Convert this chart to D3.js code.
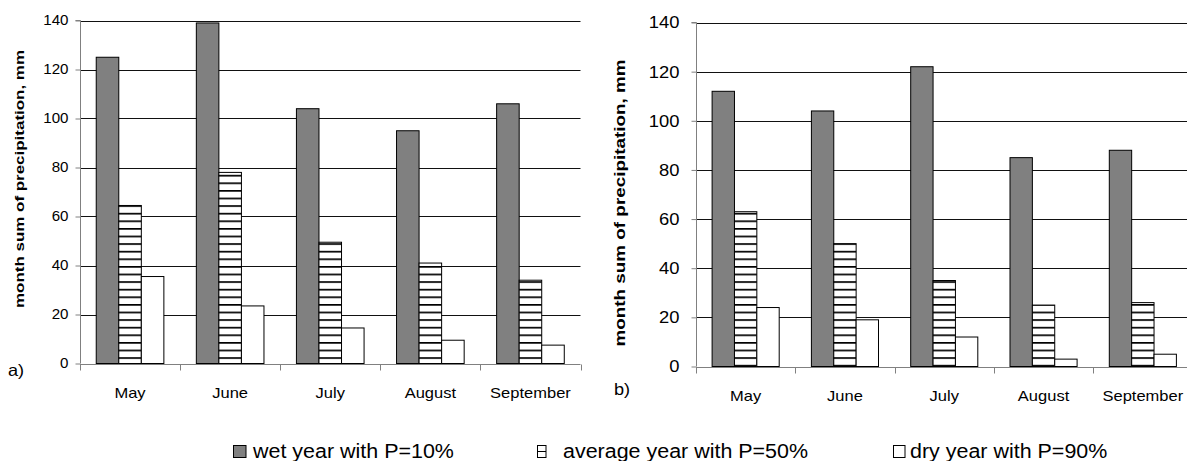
<!DOCTYPE html>
<html>
<head>
<meta charset="utf-8">
<script src="https://cdn.jsdelivr.net/npm/d3@7/dist/d3.min.js"></script>
<style>
  html, body { margin: 0; padding: 0; background: #fff; }
  svg { display: block; font-family: "Liberation Sans", Arial, sans-serif; }
</style>
</head>
<body>
<svg id="chart" width="1187" height="461"></svg>
<script>
// ---------- DATA ----------
const months = ["May", "June", "July", "August", "September"];
const seriesNames = ["wet year with P=10%", "average year with P=50%", "dry year with P=90%"];
const yTicks = [0, 20, 40, 60, 80, 100, 120, 140];
// panel a)
const wetA = [125, 139, 104, 95, 106];
const avgA = [64.5, 78, 49.5, 41, 34];
const dryA = [35.5, 23.5, 14.5, 9.5, 7.5];
// panel b)
const wetB = [112, 104, 122, 85, 88];
const avgB = [63, 50, 35, 25, 26];
const dryB = [24, 19, 12, 3, 5];
const yTitle = "month sum of precipitation, mm";

// ---------- SETUP ----------
const svg = d3.select("#chart");
svg.append("rect").attr("width", 1187).attr("height", 461).attr("fill", "#fff");

const defs = svg.append("defs");
const pat = defs.append("pattern").attr("id", "hstripe")
  .attr("patternUnits", "userSpaceOnUse").attr("width", 8).attr("height", 7.6);
pat.append("rect").attr("width", 8).attr("height", 7.6).attr("fill", "#fff");
pat.append("rect").attr("y", 0).attr("width", 8).attr("height", 1.7).attr("fill", "#000");

const fills = ["#808080", "url(#hstripe)", "#ffffff"];

function stretch(sel, f) {
  sel.each(function () {
    const L = this.getComputedTextLength();
    d3.select(this).attr("textLength", L * f).attr("lengthAdjust", "spacingAndGlyphs");
  });
}

function panel(opts) {
  const { x0, x1, y0, y1, wet, avg, dry, tickFont, tickGap, title, titleX, titleY, titleFont, titleLen, tag, tagX, tagY, tagFont } = opts;
  const g = svg.append("g");
  const x = d3.scaleBand().domain(months).range([x0, x1]).padding(0);
  const xs = d3.scaleBand().domain([0, 1, 2]).range([0, x.bandwidth()]).paddingInner(0).paddingOuter(0.72);
  const y = d3.scaleLinear().domain([0, 140]).range([y0, y1]);

  // gridlines
  g.append("g").selectAll("line").data(yTicks.filter(d => d > 0)).join("line")
    .attr("x1", x0).attr("x2", x1)
    .attr("y1", d => Math.round(y(d)) + 0.5).attr("y2", d => Math.round(y(d)) + 0.5)
    .attr("stroke", "#111").attr("stroke-width", 1);

  // bars
  const data = months.map((m, i) => ({ m, vals: [wet[i], avg[i], dry[i]] }));
  const grp = g.append("g").selectAll("g").data(data).join("g")
    .attr("transform", d => `translate(${x(d.m)},0)`);
  grp.selectAll("rect").data(d => d.vals.map((v, k) => ({ v, k }))).join("rect")
    .attr("x", d => xs(d.k))
    .attr("width", xs.bandwidth())
    .attr("y", d => y(d.v))
    .attr("height", d => y(0) - y(d.v))
    .attr("fill", d => fills[d.k])
    .attr("stroke", "#000").attr("stroke-width", 1);

  // y axis
  const yAxis = d3.axisLeft(y).tickValues(yTicks).tickSize(5).tickPadding(tickGap);
  const ya = g.append("g").attr("transform", `translate(${x0 + 0.5},0)`).call(yAxis);
  ya.select(".domain").attr("stroke", "#808080").attr("d", `M-5,${y(140)}H0V${y(0)}`);
  ya.selectAll(".tick line").attr("stroke", "#808080");
  ya.selectAll(".tick text").attr("font-size", tickFont).attr("fill", "#000")
    .attr("font-family", "Liberation Sans, Arial, sans-serif");
  stretch(ya.selectAll(".tick text"), 1.08);

  // x axis
  const xa = g.append("g").attr("transform", `translate(0,${Math.round(y0) + 0.5})`);
  xa.append("line").attr("x1", x0).attr("x2", x1).attr("stroke", "#808080");
  const bounds = months.map(m => x(m)).concat([x1]);
  xa.selectAll("line.tk").data(bounds).join("line").attr("class", "tk")
    .attr("x1", d => Math.round(d) + 0.5).attr("x2", d => Math.round(d) + 0.5)
    .attr("y1", 0).attr("y2", 6).attr("stroke", "#808080");
  const xl = xa.selectAll("text").data(months).join("text")
    .attr("x", d => x(d) + x.bandwidth() / 2).attr("y", 33)
    .attr("text-anchor", "middle").attr("font-size", 15).attr("fill", "#000")
    .text(d => d);
  stretch(xl, 1.1);

  // y title
  g.append("text")
    .attr("transform", `translate(${titleX},${titleY}) rotate(-90)`)
    .attr("text-anchor", "middle").attr("dominant-baseline", "central")
    .attr("font-weight", "bold").attr("font-size", titleFont).attr("fill", "#000")
    .attr("textLength", titleLen).attr("lengthAdjust", "spacingAndGlyphs")
    .text(title);

  // panel tag
  const tg = g.append("text").attr("x", tagX).attr("y", tagY).attr("font-size", tagFont)
    .attr("fill", "#000").text(tag);
  stretch(tg, 1.1);
}

panel({ x0: 80, x1: 580.5, y0: 363.5, y1: 20.5, wet: wetA, avg: avgA, dry: dryA,
  tickFont: 14, tickGap: 7, title: yTitle, titleX: 19, titleY: 179, titleFont: 13.5, titleLen: 258,
  tag: "a)", tagX: 8, tagY: 376, tagFont: 16.5 });
panel({ x0: 696, x1: 1192.5, y0: 366.5, y1: 22.5, wet: wetB, avg: avgB, dry: dryB,
  tickFont: 17, tickGap: 12, title: yTitle, titleX: 619, titleY: 203, titleFont: 15, titleLen: 287,
  tag: "b)", tagX: 614, tagY: 395, tagFont: 16.5 });

// ---------- LEGEND ----------
const legendItems = [
  { name: seriesNames[0], mx: 233.5, mw: 12.5, tx: 253 },
  { name: seriesNames[1], mx: 537.5, mw: 8.5, tx: 563 },
  { name: seriesNames[2], mx: 893.5, mw: 11.5, tx: 910 }
];
const lg = svg.append("g");
legendItems.forEach((it, i) => {
  lg.append("rect").attr("x", it.mx).attr("y", 445.5).attr("width", it.mw).attr("height", 12)
    .attr("fill", i === 0 ? "#808080" : "#fff").attr("stroke", "#000").attr("stroke-width", 1);
  if (i === 1) {
    lg.append("line").attr("x1", it.mx).attr("x2", it.mx + it.mw)
      .attr("y1", 451.5).attr("y2", 451.5).attr("stroke", "#000");
  }
  const t = lg.append("text").attr("x", it.tx).attr("y", 457.5).attr("font-size", 19.5)
    .attr("fill", "#000").text(it.name);
  stretch(t, 1.1);
});
</script>
</body>
</html>
